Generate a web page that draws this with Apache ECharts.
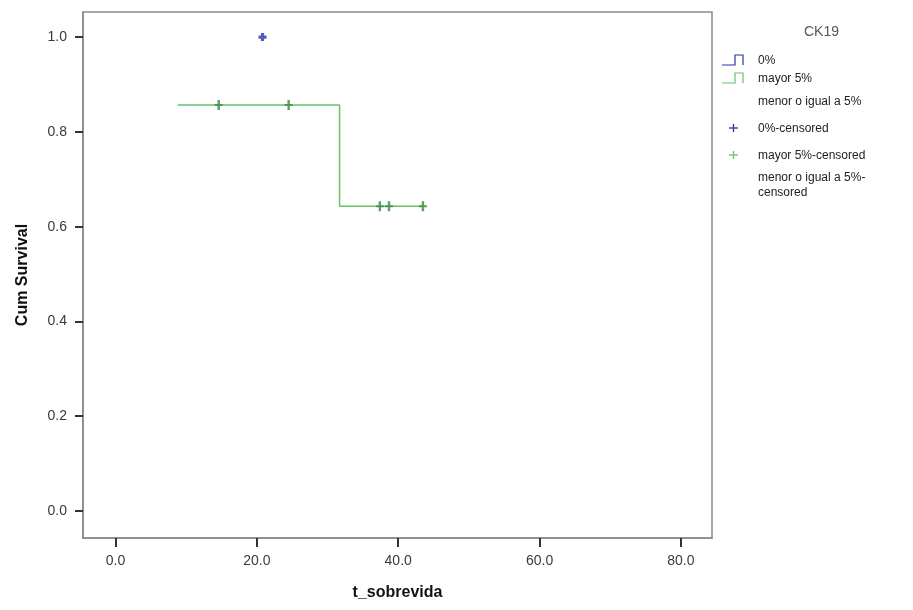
<!DOCTYPE html>
<html>
<head>
<meta charset="utf-8">
<title>CK19 - Cum Survival</title>
<script src="https://cdn.jsdelivr.net/npm/echarts@6/dist/echarts.min.js"></script>
<style>
  html, body { margin: 0; padding: 0; background: #ffffff; }
  #chart { width: 913px; height: 610px; }
</style>
</head>
<body>
<div id="chart"></div>
<script>
// Kaplan-Meier survival for CK19 groups
const xTicks = [0, 20, 40, 60, 80];
const yTicks = [0, 0.2, 0.4, 0.6, 0.8, 1.0];

// "mayor 5%" survival curve (step points: time, cumulative survival)
const mayorCurve = [[8.8, 0.857], [31.7, 0.643], [43.6, 0.643]];
// censored observations
const mayorCensored = [[14.6, 0.857], [24.5, 0.857], [37.4, 0.643], [38.7, 0.643], [43.5, 0.643]];
const zeroCensored = [[20.8, 1.0]];

const legendTitle = 'CK19';
const legendItems = ['0%', 'mayor 5%', 'menor o igual a 5%', '0%-censored', 'mayor 5%-censored', 'menor o igual a 5%-\ncensored'];

const BLUE = '#2436b0';
const GREEN = '#66c466';
const GREEN_DARK = '#3f8f46';
const PLUS = 'path://M3,0H7V3H10V7H7V10H3V7H0V3H3Z';
const VBAR = 'path://M3.5,0H6.5V4H10V6H6.5V10H3.5V6H0V4H3.5Z';

const chart = echarts.init(document.getElementById('chart'), null, { renderer: 'canvas' });

const labelFont = { color: '#3a3a3a', fontFamily: 'Liberation Sans, Arial, sans-serif', fontSize: 14 };

// Legend drawn at the right of the plot
const lx = 722, tx = 758;
const rowY = [60, 78, 101, 128, 155, 177];

function stepIcon(y, color) {
  return {
    type: 'polyline',
    shape: { points: [[lx, y + 5], [lx + 13, y + 5], [lx + 13, y - 5], [lx + 21, y - 5], [lx + 21, y + 5]] },
    style: { fill: null, stroke: color, lineWidth: 1.2 }
  };
}
function plusIcon(y, color) {
  return [
    { type: 'line', shape: { x1: 729, y1: y, x2: 738, y2: y }, style: { stroke: color, lineWidth: 1.3 } },
    { type: 'line', shape: { x1: 733.5, y1: y - 4, x2: 733.5, y2: y + 4 }, style: { stroke: color, lineWidth: 1.3 } }
  ];
}

const legendGraphics = [
  { type: 'text', x: 804, y: 25, style: { text: legendTitle, fill: '#555', font: '14px "Liberation Sans", Arial, sans-serif' } },
  stepIcon(rowY[0], BLUE),
  stepIcon(rowY[1], GREEN)
].concat(plusIcon(rowY[3], BLUE), plusIcon(rowY[4], GREEN));

legendItems.forEach(function (t, i) {
  legendGraphics.push({
    type: 'text', x: tx, y: rowY[i] - 7,
    style: { text: t, fill: '#222', font: '12px "Liberation Sans", Arial, sans-serif', lineHeight: 15 }
  });
});

chart.setOption({
  animation: false,
  backgroundColor: '#ffffff',
  grid: {
    left: 83, top: 12, width: 629, height: 526,
    show: true, borderColor: '#8a8a8a', borderWidth: 1.5, backgroundColor: '#ffffff'
  },
  xAxis: {
    type: 'value', min: -4.6, max: 84.4,
    name: 't_sobrevida', nameLocation: 'middle', nameGap: 47,
    nameTextStyle: { fontFamily: 'Liberation Sans, Arial, sans-serif', fontWeight: 'bold', fontSize: 16, color: '#111' },
    axisLine: { show: true, onZero: false, lineStyle: { color: '#8a8a8a', width: 1.5 } },
    axisTick: { show: true, customValues: xTicks, length: 9, lineStyle: { color: '#333', width: 2 } },
    axisLabel: Object.assign({ customValues: xTicks, margin: 16, formatter: function (v) { return v.toFixed(1); } }, labelFont),
    splitLine: { show: false }
  },
  yAxis: {
    type: 'value', min: -0.057, max: 1.053,
    name: 'Cum Survival', nameLocation: 'middle', nameGap: 52,
    nameTextStyle: { fontFamily: 'Liberation Sans, Arial, sans-serif', fontWeight: 'bold', fontSize: 16, color: '#111' },
    axisLine: { show: true, onZero: false, lineStyle: { color: '#8a8a8a', width: 1.5 } },
    axisTick: { show: true, customValues: yTicks, length: 8, lineStyle: { color: '#333', width: 2 } },
    axisLabel: Object.assign({ customValues: yTicks, margin: 16, formatter: function (v) { return v.toFixed(1); } }, labelFont),
    splitLine: { show: false }
  },
  graphic: legendGraphics,
  series: [
    {
      name: 'mayor 5%', type: 'line', step: 'end', data: mayorCurve,
      symbol: 'none', lineStyle: { color: GREEN, width: 1.5 }, z: 2
    },
    {
      name: 'mayor 5%-censored', type: 'scatter', data: mayorCensored,
      symbol: VBAR, symbolSize: [8, 10], itemStyle: { color: GREEN_DARK, opacity: 0.85 }, z: 3
    },
    {
      name: '0%-censored', type: 'scatter', data: zeroCensored,
      symbol: PLUS, symbolSize: [8, 8], itemStyle: { color: BLUE }, z: 3
    }
  ]
});
</script>
</body>
</html>
